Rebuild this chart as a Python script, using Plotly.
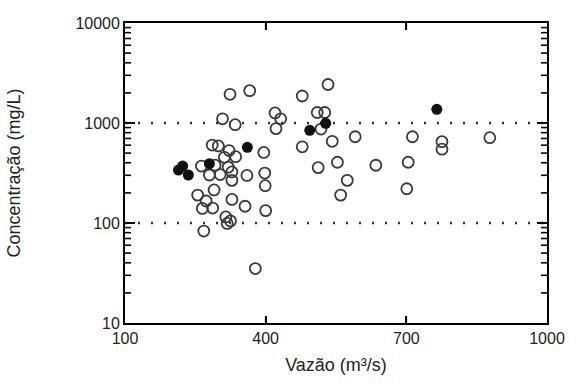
import plotly.graph_objects as go

# Open symbols (vazão m3/s, concentração mg/L)
open_q = [324, 366, 478, 533, 420, 432, 422, 510, 526, 308, 335, 518, 478, 542,
          286, 299, 322, 336, 312, 396, 263, 292, 320, 328, 280, 303, 328, 360,
          398, 399, 290, 255, 273, 328, 356, 265, 287, 400, 315, 325, 318, 268,
          378, 512, 553, 560, 574, 591, 713, 776, 776, 878, 635, 704, 701]
open_c = [1937, 2107, 1862, 2427, 1260, 1102, 879, 1273, 1273, 1102, 962, 870, 578, 656,
          602, 590, 530, 460, 454, 508, 371, 379, 362, 324, 302, 305, 267, 299,
          316, 236, 214, 190, 166, 172, 147, 140, 141, 133, 115, 105, 99, 83,
          35, 358, 405, 190, 267, 729, 729, 651, 547, 713, 378, 405, 220]

# Filled symbols
fill_q = [223, 214, 235, 280, 361, 494, 528, 765]
fill_c = [371, 338, 302, 392, 571, 844, 993, 1371]

# Reference levels (dotted lines across the flow range)
ref_levels = [1000, 100]
q_range = [100, 1000]

x_ticks = [100, 400, 700, 1000]
y_ticks = [10, 100, 1000, 10000]
y_tick_text = ["10", "100", "1000", "10000"]
y_minor = [m * d for d in (10, 100, 1000) for m in range(2, 10)]

FAM = "Liberation Sans, Arial, sans-serif"

fig = go.Figure()
for lv in ref_levels:
    fig.add_trace(go.Scatter(
        x=q_range, y=[lv, lv], mode="lines",
        line=dict(color="#333333", width=2.5, dash="2px,11px"),
        showlegend=False, hoverinfo="skip"))
fig.add_trace(go.Scatter(
    x=open_q, y=open_c, mode="markers",
    marker=dict(symbol="circle-open", size=11, color="#3a3a3a", line=dict(width=1.8)),
    showlegend=False))
fig.add_trace(go.Scatter(
    x=fill_q, y=fill_c, mode="markers",
    marker=dict(symbol="circle", size=11, color="#111111"),
    showlegend=False))

# Tick marks drawn as short pixel-length lines anchored at the axis values
tick_line = dict(color="black", width=1.6)
for v in x_ticks[1:-1]:
    fig.add_shape(type="line", xref="x", x0=v, x1=v, yref="paper", ysizemode="pixel",
                  yanchor=0, y0=0, y1=7, line=tick_line)
    fig.add_shape(type="line", xref="x", x0=v, x1=v, yref="paper", ysizemode="pixel",
                  yanchor=1, y0=0, y1=-7, line=tick_line)
for v, ln in [(t, 10) for t in y_ticks[1:-1]] + [(t, 6) for t in y_minor]:
    fig.add_shape(type="line", yref="y", y0=v, y1=v, xref="paper", xsizemode="pixel",
                  xanchor=0, x0=0, x1=ln, line=tick_line)
    fig.add_shape(type="line", yref="y", y0=v, y1=v, xref="paper", xsizemode="pixel",
                  xanchor=1, x0=0, x1=-ln, line=tick_line)

fig.update_layout(
    width=577, height=384,
    margin=dict(l=125, r=26, t=23, b=55),
    plot_bgcolor="white",
    xaxis=dict(
        range=q_range, tickvals=x_ticks, ticktext=[str(v) for v in x_ticks],
        ticks="inside", ticklen=7, tickwidth=2, tickcolor="black",
        showline=True, linecolor="black", linewidth=1.8, mirror="ticks",
        showgrid=False, zeroline=False,
        tickfont=dict(size=16, family=FAM, color="#222"),
        title=dict(text="Vazão (m³/s)", font=dict(size=18, family=FAM, color="#222"), standoff=12),
    ),
    yaxis=dict(
        type="log", range=[1, 4], tickvals=y_ticks, ticktext=y_tick_text,
        ticks="inside", ticklen=10, tickwidth=2, tickcolor="black",
        showline=True, linecolor="black", linewidth=1.8, mirror="ticks",
        showgrid=False, zeroline=False,
        tickfont=dict(size=16, family=FAM, color="#222"),
        title=dict(text="Concentração (mg/L)", font=dict(size=18, family=FAM, color="#222"),
                   standoff=50),
    ),
)

fig.write_html("out.html")
